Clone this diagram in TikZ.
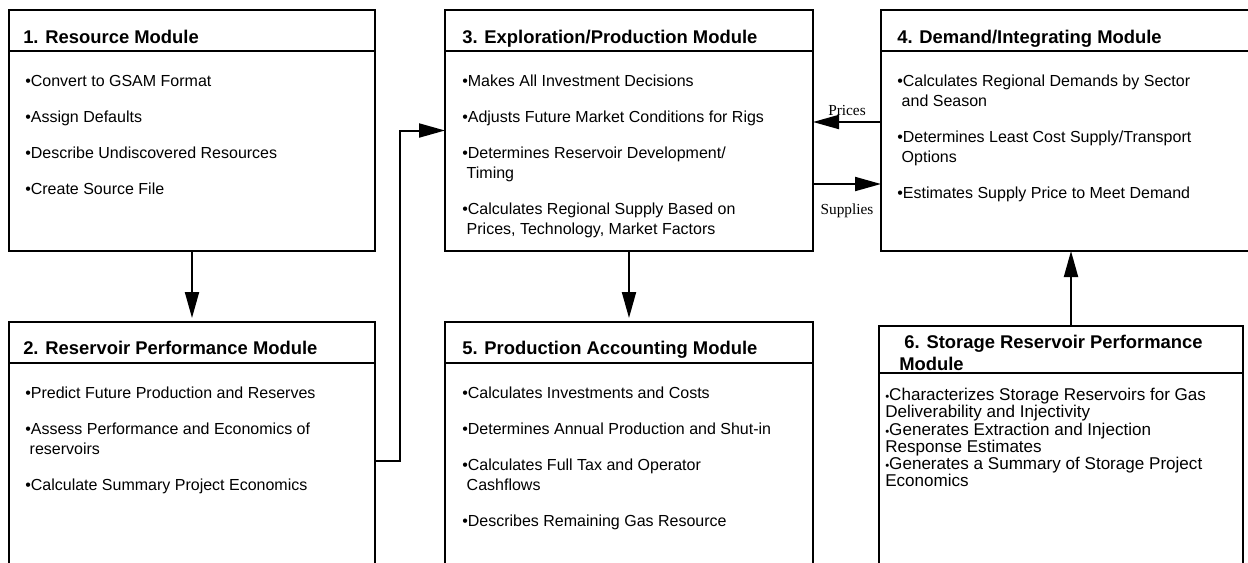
\documentclass[tikz,border=0pt]{standalone}
\usepackage{fontspec}
\setmainfont{Liberation Sans}
\newfontfamily\serifschrift{Liberation Serif}
\usetikzlibrary{arrows.meta}

\newcommand{\kpunkt}{{\fontsize{8.5}{8.5}\selectfont •}}

\tikzset{
  modul/.style={draw, line width=1.5pt, anchor=north west, inner sep=0pt, outer sep=0pt},
  kopf/.style={anchor=base west, inner sep=0pt, align=left, font=\bfseries\fontsize{13.8}{16.5}\selectfont},
  punkte/.style={anchor=north west, inner sep=0pt, align=left, font=\fontsize{12}{15}\selectfont},
  trenn/.style={line width=2.2pt},
  pfeil/.style={line width=1.5pt, -{Triangle[length=19.5pt,width=10.5pt]}},
  etikett/.style={inner sep=0pt, font=\serifschrift\fontsize{11.5}{13}\selectfont}
}

\begin{document}
\begin{tikzpicture}[x=0.75pt,y=-0.75pt]
  % Rahmen
  \useasboundingbox (0,0) rectangle (1248,562);
  \clip (0,0) rectangle (1248,562);

  % obere Reihe
  \node[modul, minimum width=274.5pt, minimum height=180.75pt] (res) at (9,10) {};
  \draw[trenn] (res.north west) ++(0,41) -- ++(366,0);
  \node[kopf] at ([shift={(14,33)}]res.north west) {1. Resource Module};
  \node[punkte] at ([shift={(16,65)}]res.north west) {%
    •Convert to GSAM Format\\[12pt]
    •Assign Defaults\\[12pt]
    •Describe Undiscovered Resources\\[12pt]
    •Create Source File};

  \node[modul, minimum width=276pt, minimum height=180.75pt] (expl) at (445,10) {};
  \draw[trenn] (expl.north west) ++(0,41) -- ++(368,0);
  \node[kopf] at ([shift={(17,33)}]expl.north west) {3. Exploration/Production Module};
  \node[punkte] at ([shift={(17,65)}]expl.north west) {%
    •Makes All Investment Decisions\\[12pt]
    •Adjusts Future Market Conditions for Rigs\\[12pt]
    •Determines Reservoir Development/\\
    ~Timing\\[12pt]
    •Calculates Regional Supply Based on\\
    ~Prices, Technology, Market Factors};

  \node[modul, minimum width=285pt, minimum height=180.75pt] (nachfr) at (881,10) {};
  \draw[trenn] (nachfr.north west) ++(0,41) -- ++(380,0);
  \node[kopf] at ([shift={(16,33)}]nachfr.north west) {4. Demand/Integrating Module};
  \node[punkte] at ([shift={(16,65)}]nachfr.north west) {%
    •Calculates Regional Demands by Sector\\
    ~and Season\\[12pt]
    •Determines Least Cost Supply/Transport\\
    ~Options\\[12pt]
    •Estimates Supply Price to Meet Demand};

  % untere Reihe
  \node[modul, minimum width=274.5pt, minimum height=225pt] (lager) at (9,322) {};
  \draw[trenn] (lager.north west) ++(0,41) -- ++(366,0);
  \node[kopf] at ([shift={(14,32)}]lager.north west) {2. Reservoir Performance Module};
  \node[punkte] at ([shift={(16,65)}]lager.north west) {%
    •Predict Future Production and Reserves\\[12pt]
    •Assess Performance and Economics of\\
    ~reservoirs\\[12pt]
    •Calculate Summary Project Economics};

  \node[modul, minimum width=276pt, minimum height=225pt] (abrech) at (445,322) {};
  \draw[trenn] (abrech.north west) ++(0,41) -- ++(368,0);
  \node[kopf] at ([shift={(17,32)}]abrech.north west) {5. Production Accounting Module};
  \node[punkte] at ([shift={(17,65)}]abrech.north west) {%
    •Calculates Investments and Costs\\[12pt]
    •Determines Annual Production and Shut-in\\[12pt]
    •Calculates Full Tax and Operator\\
    ~Cashflows\\[12pt]
    •Describes Remaining Gas Resource};

  \node[modul, minimum width=273pt, minimum height=225pt] (speicher) at (879,326) {};
  \draw[line width=1.5pt] (speicher.north west) ++(0,47) -- ++(364,0);
  \node[kopf] at ([shift={(20,44)}]speicher.north west) {~6. Storage Reservoir Performance\\Module};
  \node[punkte, font=\fontsize{12.8}{12.9}\selectfont] at ([shift={(6,62)}]speicher.north west) {%
    \kpunkt Characterizes Storage Reservoirs for Gas\\
    Deliverability and Injectivity\\
    \kpunkt Generates Extraction and Injection\\
    Response Estimates\\
    \kpunkt Generates a Summary of Storage Project\\
    Economics};

  % Verbindungen
  \draw[pfeil, shorten >=3pt] (res.south) -- (lager.north);
  \draw[pfeil, shorten >=3pt] (expl.south) -- (abrech.north);
  \draw[pfeil] (nachfr.south |- speicher.north) -- (nachfr.south);
  \coordinate (knick) at (400,461);
  \draw[pfeil] (knick -| lager.east) -- (knick) |- (expl.west);
  \draw[pfeil] ([shift={(0,-8.5)}]nachfr.west) -- node[etikett, above=3.75pt] {Prices} ([shift={(0,-8.5)}]expl.east);
  \draw[pfeil] ([shift={(0,53.5)}]expl.east) -- node[etikett, below=14pt] {Supplies} ([shift={(0,53.5)}]nachfr.west);
\end{tikzpicture}
\end{document}
